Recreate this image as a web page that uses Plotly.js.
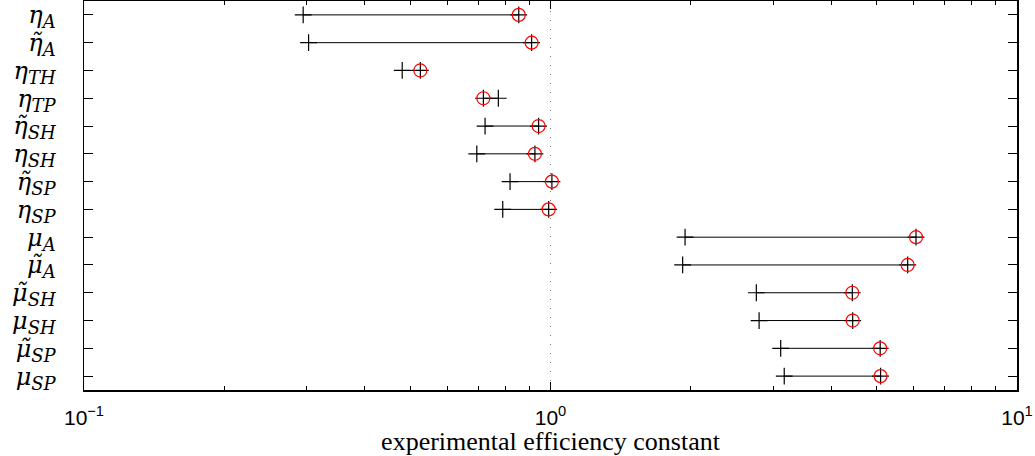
<!DOCTYPE html>
<html>
<head>
<meta charset="utf-8">
<script src="https://cdn.plot.ly/plotly-3.0.1.min.js"></script>
<style>html,body{margin:0;padding:0;background:#fff;}#chart{width:1035px;height:456px;}</style>
</head>
<body>
<div id="chart"></div>
<script>
// ---- data ----
const symbols   = ["η", "η̃", "η", "η", "η̃", "η", "η̃", "η", "μ", "μ̃", "μ̃", "μ", "μ̃", "μ"];
const subscripts = ["A", "A", "TH", "TP", "SH", "SH", "SP", "SP", "A", "A", "SH", "SH", "SP", "SP"];
const crossValues  = [0.295, 0.303, 0.481, 0.773, 0.724, 0.695, 0.819, 0.790, 1.943, 1.920, 2.762, 2.800, 3.115, 3.170];
const circleValues = [0.855, 0.911, 0.526, 0.718, 0.943, 0.926, 1.007, 0.991, 6.075, 5.830, 4.436, 4.444, 5.090, 5.100];
const referenceValue = 1;
const xTickVals = [0.1, 1, 10];
const xTickText = ["10<sup>−1</sup>", "10<sup>0</sup>", "10<sup>1</sup>"];
const xMinorVals = [0.2,0.3,0.4,0.5,0.6,0.7,0.8,0.9,2,3,4,5,6,7,8,9];

// ---- labels ----
const categories = symbols.map((s, i) =>
  "<i>" + s + "</i><sub><span style='font-size:18px'><i>" + subscripts[i] + "</i></span></sub>");

// ---- build traces ----
const idx = categories.map((_, i) => i);
const segX = [], segY = [];
idx.forEach(i => { segX.push(crossValues[i], circleValues[i], null); segY.push(i, i, null); });

const traces = [
  {x: segX, y: segY, mode: 'lines', line: {color: '#000', width: 1}, hoverinfo: 'skip'},
  {x: crossValues.concat(circleValues), y: idx.concat(idx), mode: 'markers',
   marker: {symbol: 'cross-thin-open', size: 12, color: '#000', line: {color: '#000', width: 1.2}}},
  {x: circleValues, y: idx, mode: 'markers',
   marker: {symbol: 'circle-open', size: 13, color: '#ff0000', line: {color: '#ff0000', width: 1.2}}}
];

const layout = {
  width: 1035, height: 456,
  margin: {l: 84, r: 18, t: 1, b: 66},
  showlegend: false,
  paper_bgcolor: '#fff', plot_bgcolor: '#fff',
  xaxis: {
    type: 'log', range: [-1, 1],
    tickvals: xTickVals, ticktext: xTickText,
    ticks: 'inside', ticklen: 8, tickcolor: '#000', tickwidth: 1,
    minor: {tickvals: xMinorVals, ticks: 'inside', ticklen: 4, tickcolor: '#000', showgrid: false},
    showgrid: false, zeroline: false,
    showline: true, linecolor: '#000', linewidth: 1.5, mirror: 'ticks',
    ticklabelstandoff: 8,
    tickfont: {family: 'Liberation Sans, Arial, sans-serif', size: 21, color: '#000'},
    title: {text: 'experimental efficiency constant', standoff: 2,
            font: {family: 'Liberation Serif, DejaVu Serif, serif', size: 26, color: '#000'}}
  },
  yaxis: {
    range: [13.5, -0.5],
    tickvals: idx, ticktext: categories,
    ticks: 'inside', ticklen: 9, tickcolor: '#000', tickwidth: 1,
    showgrid: false, zeroline: false,
    showline: true, linecolor: '#000', linewidth: 1.5, mirror: 'ticks',
    ticklabelstandoff: 22,
    tickfont: {family: 'DejaVu Serif, serif', size: 24, color: '#000'}
  },
  shapes: [{type: 'line', xref: 'x', yref: 'paper', x0: referenceValue, x1: referenceValue, y0: 0, y1: 1,
            line: {color: '#777', width: 1, dash: '1px,8px'}, layer: 'below'}]
};

Plotly.newPlot('chart', traces, layout, {displayModeBar: false, staticPlot: true});
</script>
</body>
</html>
